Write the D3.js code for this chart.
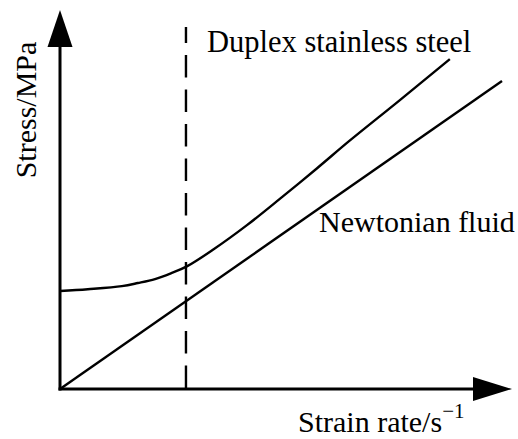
<!DOCTYPE html>
<html>
<head>
<meta charset="utf-8">
<script src="https://cdn.jsdelivr.net/npm/d3@7"></script>
<style>
  html, body { margin: 0; padding: 0; background: #fff; }
  svg { display: block; }
  text { font-family: "Liberation Serif", "Times New Roman", serif; fill: #000; }
</style>
</head>
<body>
<svg id="chart" width="518" height="439"></svg>
<script>
// Schematic: stress vs strain rate (arbitrary units)
const newtonianRate   = [0, 10];
const newtonianStress = [0, 10];

const duplexRate   = [0, 0.63, 1.40, 1.76, 2.15, 2.53, 2.87, 3.46, 4.23, 4.98, 5.81, 6.56, 7.69, 8.82];
const duplexStress = [3.18, 3.24, 3.34, 3.44, 3.57, 3.77, 3.98, 4.52, 5.32, 6.18, 7.16, 8.07, 9.38, 10.71];

// strain rate where the dashed divider sits
const transitionRate = [2.85];

const labels = {
  duplex: "Duplex stainless steel",
  newtonian: "Newtonian fluid",
  xAxis: "Strain rate/s",
  xAxisSup: "\u22121",
  yAxis: "Stress/MPa"
};

const svg = d3.select("#chart");
const origin = { x: 60, y: 389 };

const x = d3.scaleLinear().domain([0, 10]).range([origin.x, 502]);
const y = d3.scaleLinear().domain([0, 10]).range([origin.y, 81]);

const line = d3.line()
  .x(d => x(d[0]))
  .y(d => y(d[1]))
  .curve(d3.curveCatmullRom.alpha(0.5));

// dashed vertical divider
svg.selectAll("line.divider")
  .data(transitionRate)
  .join("line")
  .attr("class", "divider")
  .attr("x1", d => x(d)).attr("x2", d => x(d))
  .attr("y1", origin.y - 1).attr("y2", 27)
  .attr("stroke", "#000")
  .attr("stroke-width", 2.4)
  .attr("stroke-dasharray", "22.5 12");

// Newtonian fluid: straight line through origin
svg.append("path")
  .datum(d3.zip(newtonianRate, newtonianStress))
  .attr("d", line)
  .attr("fill", "none")
  .attr("stroke", "#000")
  .attr("stroke-width", 2.4);

// Duplex stainless steel curve
svg.append("path")
  .datum(d3.zip(duplexRate, duplexStress))
  .attr("d", line)
  .attr("fill", "none")
  .attr("stroke", "#000")
  .attr("stroke-width", 2.4);

// axes with arrowheads
svg.append("line")
  .attr("x1", origin.x).attr("y1", origin.y + 1.5)
  .attr("x2", origin.x).attr("y2", 40)
  .attr("stroke", "#000").attr("stroke-width", 3);
svg.append("path")
  .attr("d", `M${origin.x},10 L${origin.x + 12.5},47 L${origin.x - 12.5},47 Z`)
  .attr("fill", "#000");

svg.append("line")
  .attr("x1", origin.x - 1.5).attr("y1", origin.y)
  .attr("x2", 480).attr("y2", origin.y)
  .attr("stroke", "#000").attr("stroke-width", 3);
svg.append("path")
  .attr("d", `M512,${origin.y} L473,${origin.y - 12} L473,${origin.y + 12} Z`)
  .attr("fill", "#000");

// series labels
svg.append("text")
  .attr("x", 207).attr("y", 52)
  .attr("font-size", 30.5)
  .text(labels.duplex);

svg.append("text")
  .attr("x", 319).attr("y", 232)
  .attr("font-size", 30)
  .text(labels.newtonian);

// axis titles
const xt = svg.append("text")
  .attr("x", 298).attr("y", 432)
  .attr("font-size", 30);
xt.append("tspan").text(labels.xAxis);
xt.append("tspan")
  .attr("dy", -14)
  .attr("font-size", 21)
  .text(labels.xAxisSup);

svg.append("text")
  .attr("transform", "translate(36,110) rotate(-90)")
  .attr("text-anchor", "middle")
  .attr("font-size", 30)
  .text(labels.yAxis);
</script>
</body>
</html>
